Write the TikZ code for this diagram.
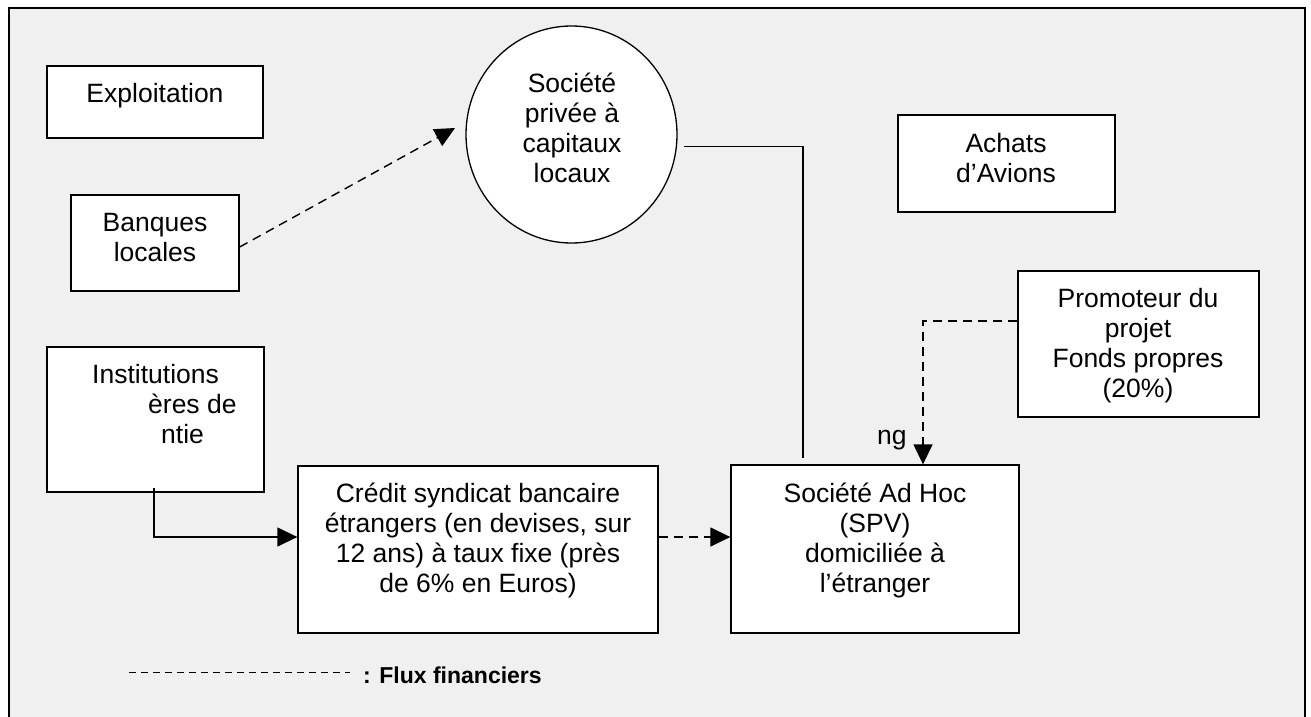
\documentclass[tikz,border=0pt]{standalone}
\usepackage{fontspec}
\setmainfont{Liberation Sans}
\usetikzlibrary{arrows.meta,shapes.geometric}
\definecolor{panel}{HTML}{F0F0F0}
\begin{document}
\begin{tikzpicture}[x=1pt,y=-1pt,
  box/.style={draw=black, fill=white, line width=1.3pt, inner sep=0pt, rectangle},
  oval/.style={draw=black, fill=white, line width=1.3pt, inner sep=0pt, ellipse},
  % multi-line texts are placed by the baseline of their last line
  txt/.style={font=\fontsize{26.5}{30}\selectfont, align=center, anchor=base, inner sep=0pt},
  link/.style={line width=1.3pt},
  flow/.style={line width=1.4pt, dash pattern=on 9pt off 6pt},
  tip/.style={-{Triangle[length=20pt,width=19pt]}},
  keyline/.style={line width=0.9pt, dash pattern=on 7pt off 5pt}
]
\useasboundingbox (0,0) rectangle (1311,717);
% outer frame, its lower edge runs off the page
\begin{scope}
  \clip (0,0) rectangle (1311,717);
  \draw[line width=2pt, fill=panel] (9,8) rectangle (1305,740);
\end{scope}

% boxes
\node[box, minimum width=216pt, minimum height=72pt]  (expl)   at (155,102)    {};
\node[box, minimum width=168pt, minimum height=96pt]  (banq)   at (155,243)    {};
\node[oval, minimum width=211pt, minimum height=217pt] (soc)   at (571.5,134.5) {};
\node[box, minimum width=217pt, minimum height=97pt]  (achats) at (1006.5,163.5) {};
\node[box, minimum width=241pt, minimum height=146pt] (promo)  at (1138.5,344) {};
\node[box, minimum width=217pt, minimum height=145pt] (inst)   at (155.5,419.5) {};
\node[box, minimum width=360pt, minimum height=167pt] (cred)   at (478,549.5)  {};
\node[box, minimum width=288pt, minimum height=168pt] (spv)    at (875,549)    {};

% texts
\node[txt] (explT)   at (155,102)  {Exploitation};
\node[txt] (banqT)   at (155,261)  {Banques\\locales};
\node[txt] (socT)    at (572,182)  {Société\\privée à\\capitaux\\locaux};
\node[txt] (achatsT) at (1006,182) {Achats\\d’Avions};
\node[txt] (promoT)  at (1138,397) {Promoteur du\\projet\\Fonds propres\\(20\%)};
\node[txt, align=left, anchor=base west] (instT) at (92,443)
  {Institutions\\\hspace*{56pt}ères de\\\hspace*{69pt}ntie};
\node[txt] (credT)   at (478,592)
  {Crédit syndicat bancaire\\étrangers (en devises, sur\\12 ans) à taux fixe (près\\de 6\% en Euros)};
\node[txt] (spvT)    at (875,592)  {Société Ad Hoc\\(SPV)\\domiciliée à\\l’étranger};
\node[txt, anchor=base west] (ngT) at (877,444) {ng};

% connectors
\coordinate (bankTip) at (455,128);
\draw[flow, tip] ([yshift=-4pt]banq.east) -- (bankTip);

\coordinate (socDrop) at (803,458);
\draw[link] ([xshift=6pt,yshift=-12pt]soc.east) -| (socDrop);

\coordinate (instOut) at (154,488);
\draw[link, tip] (instOut) |- ([yshift=12.5pt]cred.west);

\draw[flow, tip] ([yshift=12.5pt]cred.east) -- ([yshift=12.5pt]cred.east -| spv.west);

\draw[flow, tip] ([yshift=23pt]promo.west) -| ([xshift=48pt]spv.north);

% key
\coordinate (keyA) at (129,672);
\coordinate (keyB) at (350,672);
\draw[keyline] (keyA) -- (keyB);
\node[font=\bfseries\fontsize{23}{27}\selectfont, anchor=base west, inner sep=0pt] (keyT) at (363,683) {: Flux financiers};
\end{tikzpicture}
\end{document}
